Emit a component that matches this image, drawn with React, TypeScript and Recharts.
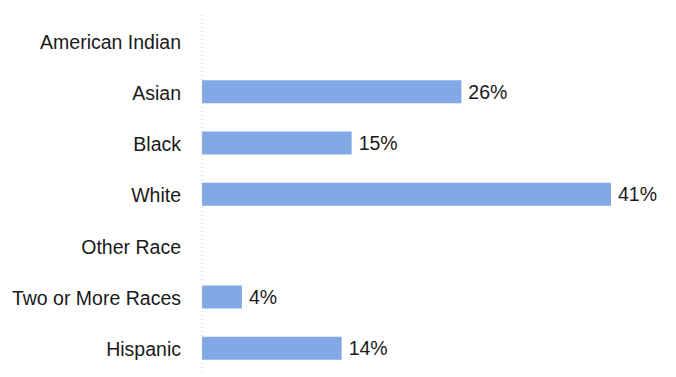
import React from 'react';
import { BarChart, Bar, XAxis, YAxis, LabelList } from 'recharts';

const categories = ['American Indian', 'Asian', 'Black', 'White', 'Other Race', 'Two or More Races', 'Hispanic'];
const percents: (number | null)[] = [null, 26, 15, 41, null, 4, 14];

const data = categories.map((name, i) => ({ name, value: percents[i] }));

const FONT = '"Liberation Sans", Arial, sans-serif';

export default function App() {
  return (
    <div style={{ position: 'absolute', left: 0, top: 0, background: '#fff' }}>
      <BarChart
        width={676}
        height={377}
        data={data}
        layout="vertical"
        margin={{ top: 15, right: 65, bottom: 3, left: 0 }}
        barSize={23}
      >
        <XAxis type="number" domain={[0, 41]} hide />
        <YAxis
          type="category"
          dataKey="name"
          width={202}
          tickLine={false}
          tickSize={0}
          tickMargin={21}
          axisLine={{ stroke: '#c8c8c8', strokeDasharray: '1 3' }}
          tick={{ fill: '#1a1a1a', fontSize: 19.5, fontFamily: FONT, dy: 1 }}
          interval={0}
        />
        <Bar dataKey="value" fill="#82a9e5" isAnimationActive={false}>
          <LabelList
            dataKey="value"
            position="right"
            offset={7}
            formatter={(v: any) => (v == null ? '' : `${v}%`)}
            style={{ fill: '#1a1a1a', fontSize: 19.5, fontFamily: FONT }}
          />
        </Bar>
      </BarChart>
    </div>
  );
}
